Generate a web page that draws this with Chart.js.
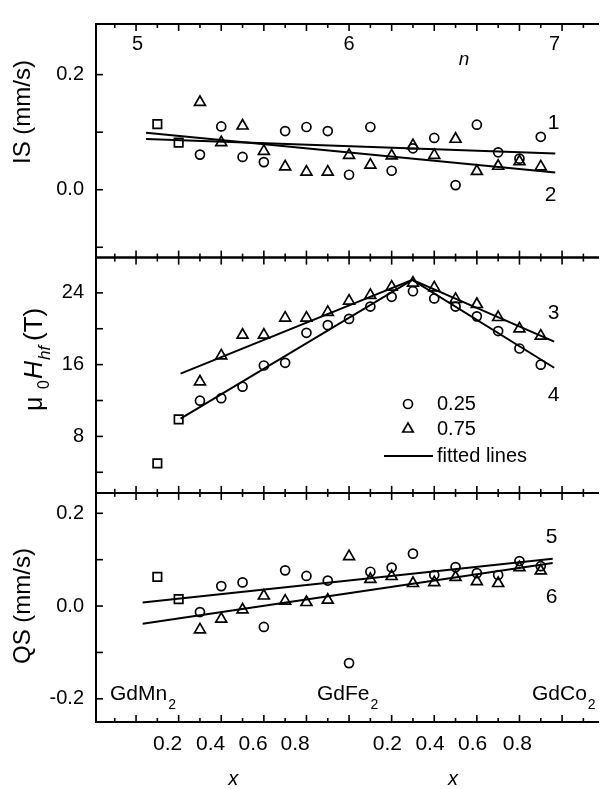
<!DOCTYPE html>
<html>
<head>
<meta charset="utf-8">
<script src="https://cdn.jsdelivr.net/npm/chart.js@4.4.1/dist/chart.umd.min.js"></script>
<style>
  html, body { margin: 0; padding: 0; background: #fff; }
</style>
</head>
<body>
<canvas id="chart" width="605" height="789"></canvas>
<script>
// sample positions along the composition axis (one tick = 0.1 in x)
const positions = [4, 5, 6, 7, 8, 9, 10, 11, 12, 13, 14, 15, 16, 17, 18, 19, 20];
const squarePos = [2, 3];

// isomer shift IS (mm/s)
const isCircle   = [0.061, 0.110, 0.057, 0.048, 0.102, 0.109, 0.102, 0.026, 0.109, 0.033, 0.072, 0.090, 0.008, 0.113, 0.065, 0.054, 0.092];
const isTriangle = [0.152, 0.082, 0.111, 0.067, 0.040, 0.031, 0.031, 0.060, 0.043, 0.059, 0.077, 0.060, 0.088, 0.032, 0.041, 0.049, 0.040];
const isSquare   = [0.114, 0.082];

// hyperfine field mu0 Hhf (T)
const hfCircle   = [11.98, 12.26, 13.54, 15.9, 16.2, 19.55, 20.4, 21.1, 22.47, 23.56, 24.18, 23.38, 22.47, 21.38, 19.74, 17.8, 16.0];
const hfTriangle = [14.09, 17.0, 19.3, 19.3, 21.2, 21.2, 21.85, 23.1, 23.74, 24.66, 25.1, 24.58, 23.3, 22.72, 21.27, 20.0, 19.2];
const hfSquare   = [5.0, 9.9];

// quadrupole splitting QS (mm/s)
const qsCircle   = [-0.013, 0.043, 0.051, -0.045, 0.077, 0.065, 0.055, -0.123, 0.074, 0.083, 0.113, 0.067, 0.084, 0.071, 0.067, 0.097, 0.086];
const qsTriangle = [-0.051, -0.028, -0.008, 0.022, 0.011, 0.008, 0.013, 0.107, 0.058, 0.064, 0.049, 0.051, 0.062, 0.053, 0.049, 0.083, 0.076];
const qsSquare   = [0.063, 0.015];

// fitted lines (end points)
const fit1X = [1.47, 20.68], fit1Y = [0.088, 0.063];
const fit2X = [1.47, 20.68], fit2Y = [0.099, 0.030];
const fit3X = [3.09, 13.97, 20.63], fit3Y = [15.0, 25.45, 18.57];
const fit4X = [3.09, 13.97, 20.63], fit4Y = [9.97, 25.45, 15.65];
const fit5X = [1.31, 20.56], fit5Y = [0.0076, 0.102];
const fit6X = [1.31, 20.56], fit6Y = [-0.038, 0.093];

// axis ticks and labels
const xTickPos = [0, 1, 2, 3, 4, 5, 6, 7, 8, 9, 10, 11, 12, 13, 14, 15, 16, 17, 18, 19, 20, 21, 22];
const xLabelPos = [2.48, 4.5, 6.5, 8.47, 12.8, 14.8, 16.8, 18.9];
const xLabelText = ['0.2', '0.4', '0.6', '0.8', '0.2', '0.4', '0.6', '0.8'];
const nLabelPos = [1.07, 11.0, 20.65];
const nLabelText = ['5', '6', '7'];
const isTicks = [-0.1, 0, 0.1, 0.2], isLabels = [0, 0.2];
const hfTicks = [4, 8, 12, 16, 20, 24], hfLabels = [8, 16, 24];
const qsTicks = [-0.2, -0.1, 0, 0.1, 0.2], qsLabels = [-0.2, 0, 0.2];

const FONT = '"Liberation Sans", Arial, sans-serif';

function pts(xs, ys) {
  return xs.map((x, i) => ({ x: x, y: ys[i] }));
}

function marks(data, yAxisID, style, r) {
  return {
    data: data, yAxisID: yAxisID, showLine: false,
    pointStyle: style, pointRadius: r, pointHoverRadius: r,
    pointBorderColor: '#000', pointBackgroundColor: 'rgba(0,0,0,0)', pointBorderWidth: 1.7
  };
}

function fitLine(data, yAxisID) {
  return {
    data: data, yAxisID: yAxisID, showLine: true, pointRadius: 0,
    borderColor: '#000', borderWidth: 2, fill: false, tension: 0
  };
}

function yScale(min, max, ticks, labels, weight, stackWeight, fmt) {
  return {
    type: 'linear', position: 'left', stack: 'panels', stackWeight: stackWeight, weight: weight,
    min: min, max: max,
    grid: { display: false, drawTicks: false }, border: { display: false },
    afterBuildTicks: s => { s.ticks = labels.map(v => ({ value: v })); },
    afterFit: s => { s.width = 96; },
    ticks: { autoSkip: false, padding: 12, color: '#000', font: { family: FONT, size: 20 }, callback: fmt }
  };
}

const decor = {
  id: 'decor',
  afterDatasetsDraw(chart) {
    const ctx = chart.ctx;
    const x = chart.scales.x;
    const panels = [chart.scales.yIS, chart.scales.yHF, chart.scales.yQS];
    const panelTicks = [isTicks, hfTicks, qsTicks];
    const L = chart.chartArea.left, R = chart.chartArea.right;
    ctx.save();
    ctx.strokeStyle = '#000';
    ctx.fillStyle = '#000';
    ctx.lineWidth = 2;
    const seg = (x1, y1, x2, y2) => { ctx.beginPath(); ctx.moveTo(x1, y1); ctx.lineTo(x2, y2); ctx.stroke(); };

    panels.forEach((y, p) => {
      ctx.lineWidth = 2;
      ctx.beginPath();
      ctx.moveTo(R + 2, y.top); ctx.lineTo(L, y.top); ctx.lineTo(L, y.bottom); ctx.lineTo(R + 2, y.bottom);
      ctx.stroke();
      ctx.lineWidth = 1.6;
      xTickPos.forEach(k => {
        const px = x.getPixelForValue(k);
        const len = (k % 2) ? 7 : 4;
        seg(px, y.top, px, y.top + len);
        seg(px, y.bottom, px, y.bottom - len);
      });
      panelTicks[p].forEach(v => {
        const py = y.getPixelForValue(v);
        seg(L, py, L + 7, py);
      });
    });

    const text = (s, px, py, size, align, style) => {
      ctx.font = (style || '') + ' ' + size + 'px ' + FONT;
      ctx.textAlign = align || 'center';
      ctx.textBaseline = 'middle';
      ctx.fillText(s, px, py);
    };

    // n scale on top
    nLabelText.forEach((s, i) => text(s, x.getPixelForValue(nLabelPos[i]), 44, 20));
    text('n', x.getPixelForValue(16.4), 60, 19, 'center', 'italic');

    // curve numbers
    const yIS = chart.scales.yIS, yHF = chart.scales.yHF, yQS = chart.scales.yQS;
    const cx = x.getPixelForValue(20.6);
    text('1', cx, yIS.getPixelForValue(0.115), 21);
    text('2', cx - 3, yIS.getPixelForValue(-0.010), 21);
    text('3', cx, yHF.getPixelForValue(21.74), 21);
    text('4', cx, yHF.getPixelForValue(12.63), 21);
    text('5', cx - 2, yQS.getPixelForValue(0.149), 21);
    text('6', cx - 2, yQS.getPixelForValue(0.020), 21);

    // legend
    const lx = 408;
    ctx.save();
    ctx.fillStyle = 'rgba(0,0,0,0)';
    ctx.strokeStyle = '#000';
    ctx.lineWidth = 1.7;
    Chart.helpers.drawPoint(ctx, { pointStyle: 'circle', radius: 4.5, borderWidth: 1.7 }, lx, 404);
    Chart.helpers.drawPoint(ctx, { pointStyle: 'triangle', radius: 6, borderWidth: 1.7 }, lx, 429);
    ctx.restore();
    ctx.lineWidth = 2;
    seg(384, 456, 433, 456);
    text('0.25', 437, 404, 20, 'left');
    text('0.75', 437, 429, 20, 'left');
    text('fitted lines', 437, 456, 20, 'left');

    // compounds along the bottom
    const compound = (base, left) => {
      ctx.font = '21px ' + FONT;
      ctx.textAlign = 'left';
      ctx.textBaseline = 'alphabetic';
      ctx.fillText(base, left, 700);
      const w = ctx.measureText(base).width;
      ctx.font = '14px ' + FONT;
      ctx.fillText('2', left + w + 1, 709);
    };
    compound('GdMn', 110);
    compound('GdFe', 317);
    compound('GdCo', 532);

    // x titles
    text('x', x.getPixelForValue(5.56), 779, 20, 'center', 'italic');
    text('x', x.getPixelForValue(15.88), 779, 20, 'center', 'italic');

    // y titles (rotated)
    const vtext = (s, cxp, cyp, size) => {
      ctx.save();
      ctx.translate(cxp, cyp);
      ctx.rotate(-Math.PI / 2);
      text(s, 0, 0, size);
      ctx.restore();
    };
    vtext('IS (mm/s)', 23, 112, 24);
    vtext('QS (mm/s)', 23, 606, 24);

    // mu0 Hhf (T): pieces placed bottom to top
    ctx.save();
    ctx.translate(35, 0);
    ctx.rotate(-Math.PI / 2);
    ctx.textBaseline = 'middle';
    ctx.textAlign = 'left';
    ctx.font = '25px ' + FONT;
    ctx.fillText('\u03bc', -411, 0);
    ctx.font = '16px ' + FONT;
    ctx.fillText('0', -389, 10);
    ctx.font = 'italic 25px ' + FONT;
    ctx.fillText('H', -379, 0);
    ctx.font = 'italic 17px ' + FONT;
    ctx.fillText('hf', -360, 10);
    ctx.font = '26px ' + FONT;
    ctx.fillText('(T)', -341, 0);
    ctx.restore();

    ctx.restore();
  }
};

new Chart(document.getElementById('chart'), {
  type: 'scatter',
  data: {
    datasets: [
      marks(pts(positions, isCircle), 'yIS', 'circle', 4.5),
      marks(pts(positions, isTriangle), 'yIS', 'triangle', 6.3),
      marks(pts(squarePos, isSquare), 'yIS', 'rect', 6),
      fitLine(pts(fit1X, fit1Y), 'yIS'),
      fitLine(pts(fit2X, fit2Y), 'yIS'),
      marks(pts(positions, hfCircle), 'yHF', 'circle', 4.5),
      marks(pts(positions, hfTriangle), 'yHF', 'triangle', 6.3),
      marks(pts(squarePos, hfSquare), 'yHF', 'rect', 6),
      fitLine(pts(fit3X, fit3Y), 'yHF'),
      fitLine(pts(fit4X, fit4Y), 'yHF'),
      marks(pts(positions, qsCircle), 'yQS', 'circle', 4.5),
      marks(pts(positions, qsTriangle), 'yQS', 'triangle', 6.3),
      marks(pts(squarePos, qsSquare), 'yQS', 'rect', 6),
      fitLine(pts(fit5X, fit5Y), 'yQS'),
      fitLine(pts(fit6X, fit6Y), 'yQS')
    ]
  },
  options: {
    responsive: false,
    animation: false,
    layout: { padding: { top: 10, right: 1, bottom: 0, left: 0 } },
    plugins: { legend: { display: false }, tooltip: { enabled: false } },
    scales: {
      x: {
        type: 'linear', position: 'bottom', min: -0.88, max: 22.64,
        grid: { display: false, drawTicks: false }, border: { display: false },
        afterBuildTicks: s => { s.ticks = xLabelPos.map(v => ({ value: v })); },
        afterFit: s => { s.height = 67; },
        ticks: {
          autoSkip: false, maxRotation: 0, padding: 10, color: '#000',
          font: { family: FONT, size: 21 },
          callback: (v, i) => xLabelText[i]
        }
      },
      yIS: yScale(-0.118, 0.288, isTicks, isLabels, 3, 238.3, v => v.toFixed(1)),
      yHF: yScale(1.7, 27.93, hfTicks, hfLabels, 2, 240, v => String(v)),
      yQS: yScale(-0.25, 0.244, qsTicks, qsLabels, 1, 233.7, v => v.toFixed(1))
    }
  },
  plugins: [decor]
});
</script>
</body>
</html>
